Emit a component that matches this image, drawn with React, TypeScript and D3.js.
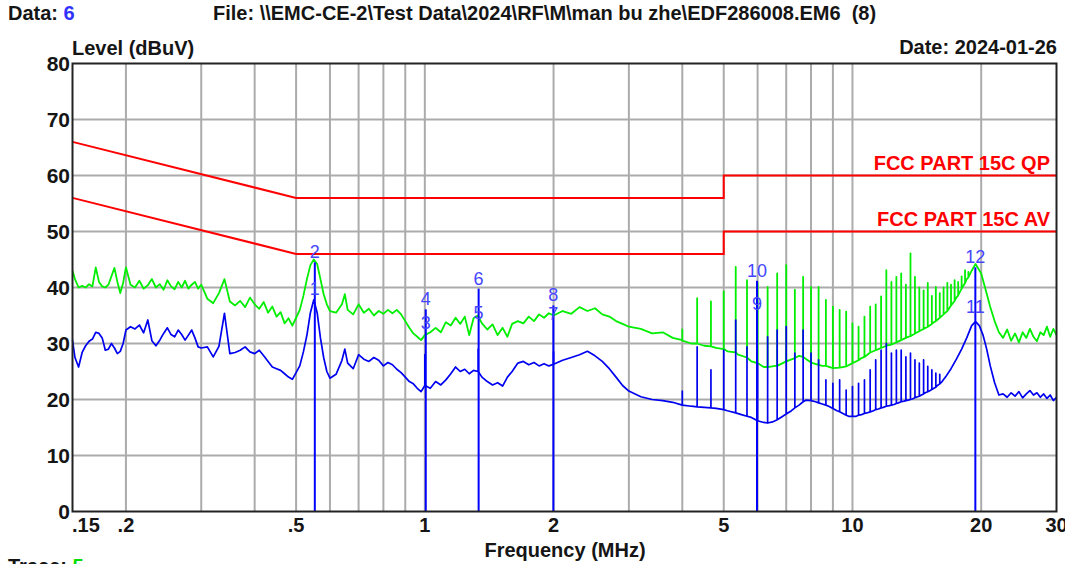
import { useEffect, useRef } from 'react';
import * as d3 from 'd3';

const W = 1065;
const H = 564;
const FONT = '"Liberation Sans", Arial, Helvetica, sans-serif';

// axis
const xGrid = [0.2, 0.3, 0.4, 0.5, 0.6, 0.7, 0.8, 0.9, 1, 2, 3, 4, 5, 6, 7, 8, 9, 10, 20];
const xTicks = [0.15, 0.2, 0.5, 1, 2, 5, 10, 20, 30];
const xTickLabels = ['.15', '.2', '.5', '1', '2', '5', '10', '20', '30'];
const yTicks = [0, 10, 20, 30, 40, 50, 60, 70, 80];

// limits (MHz, dBuV)
const qpLimit: [number, number][] = [[0.15, 66], [0.5, 56], [5, 56], [5, 60], [30, 60]];
const avLimit: [number, number][] = [[0.15, 56], [0.5, 46], [5, 46], [5, 50], [30, 50]];

// peak trace (green)
const greenBase: [number, number][] = [
  [0.150, 43.0], [0.152, 41.5], [0.155, 40.0], [0.158, 40.3], [0.161, 40.0], [0.164, 40.6], [0.167, 40.2],
  [0.170, 43.6], [0.173, 41.0], [0.176, 40.2], [0.179, 40.0], [0.182, 40.5], [0.185, 42.0], [0.188, 43.5],
  [0.191, 41.0], [0.194, 39.0], [0.197, 40.8], [0.200, 43.6], [0.205, 40.5], [0.21, 40.0], [0.215, 41.2],
  [0.22, 39.8], [0.225, 40.4], [0.23, 41.5], [0.235, 40.0], [0.24, 40.6], [0.245, 39.6], [0.25, 41.3],
  [0.255, 40.2], [0.26, 39.7], [0.265, 41.0], [0.27, 40.0], [0.275, 41.2], [0.28, 39.8], [0.285, 40.5],
  [0.29, 41.0], [0.295, 39.8], [0.30, 40.5], [0.31, 38.0], [0.32, 37.2], [0.33, 39.0], [0.34, 41.5],
  [0.35, 37.5], [0.36, 36.8], [0.37, 37.6], [0.38, 36.5], [0.39, 38.2], [0.40, 37.0], [0.41, 36.2],
  [0.42, 37.4], [0.43, 35.5], [0.44, 36.6], [0.45, 34.8], [0.46, 35.6], [0.47, 33.6], [0.48, 34.5],
  [0.49, 33.2], [0.50, 34.6], [0.51, 36.0], [0.52, 38.5], [0.53, 41.5], [0.54, 44.0], [0.55, 45.0],
  [0.56, 44.2], [0.57, 41.5], [0.58, 38.8], [0.59, 37.0], [0.60, 35.8], [0.62, 35.5], [0.64, 37.0],
  [0.65, 38.8], [0.66, 36.0], [0.68, 35.2], [0.70, 37.0], [0.72, 35.5], [0.74, 36.2], [0.76, 35.0],
  [0.78, 35.8], [0.80, 35.3], [0.82, 36.0], [0.84, 35.4], [0.86, 36.0], [0.88, 35.2], [0.90, 34.0],
  [0.92, 32.8], [0.94, 31.8], [0.96, 31.2], [0.98, 30.6], [1.0, 31.5], [1.03, 32.0], [1.06, 32.8],
  [1.09, 32.0], [1.12, 33.8], [1.15, 33.2], [1.18, 34.6], [1.21, 33.5], [1.24, 34.8], [1.27, 31.5],
  [1.30, 34.5], [1.33, 35.0], [1.36, 33.6], [1.40, 32.5], [1.44, 33.4], [1.48, 31.5], [1.52, 32.8],
  [1.56, 31.2], [1.60, 33.5], [1.65, 34.0], [1.70, 33.6], [1.75, 34.8], [1.80, 34.0], [1.85, 35.2],
  [1.90, 34.6], [1.95, 35.4], [2.0, 35.0], [2.1, 35.8], [2.2, 35.3], [2.3, 36.5], [2.4, 35.8],
  [2.5, 36.3], [2.6, 35.2], [2.7, 34.8], [2.8, 34.0], [2.9, 33.5], [3.0, 33.0], [3.2, 32.6],
  [3.4, 31.8], [3.6, 32.0], [3.8, 31.0], [4.0, 30.6], [4.2, 30.0], [4.5, 29.6], [4.8, 29.2],
  [5.1, 28.6], [5.4, 28.0], [5.8, 26.8], [6.2, 25.8], [6.6, 26.0], [7.0, 26.8], [7.5, 27.8],
  [8.0, 26.6], [8.5, 26.0], [9.0, 25.6], [9.5, 25.8], [10.0, 26.5], [10.5, 27.4], [11.0, 28.4],
  [11.5, 29.0], [12.0, 29.6], [12.5, 30.0], [13.0, 30.6], [13.5, 31.2], [14.0, 31.8], [14.5, 32.4],
  [15.0, 33.0], [15.5, 33.8], [16.0, 34.6], [16.5, 35.5], [17.0, 36.8], [17.5, 38.2], [18.0, 39.8],
  [18.5, 41.5], [19.0, 43.0], [19.4, 44.2], [20.0, 42.5], [20.5, 39.5], [21.0, 36.5], [21.5, 34.0],
  [22.0, 32.0], [22.5, 31.0], [23.0, 32.5], [23.5, 30.5], [24.0, 31.8], [24.5, 30.2], [25.0, 32.0],
  [25.5, 31.0], [26.0, 32.6], [26.5, 31.2], [27.0, 30.4], [27.5, 32.0], [28.0, 31.5], [28.5, 33.0],
  [29.0, 31.2], [29.5, 32.6], [30.0, 31.5],
];

// harmonic spikes: freq, foot, top
const greenSpikes: [number, number, number][] = [
  [4.0, 30.5, 32.5], [4.333, 30.0, 38.1], [4.667, 29.5, 37.5], [5.0, 29.0, 39.3], [5.333, 28.4, 43.7],
  [5.667, 27.5, 41.3], [6.0, 26.5, 40.8], [6.333, 25.8, 40.1], [6.667, 26.0, 42.5], [7.0, 26.8, 44.0],
  [7.333, 27.4, 39.6], [7.667, 27.6, 41.9], [8.0, 26.6, 40.1], [8.333, 26.2, 40.1], [8.667, 26.0, 37.8],
  [9.0, 25.6, 36.6], [9.333, 25.7, 36.0], [9.667, 25.9, 35.7], [10.0, 26.5, 33.6], [10.333, 27.0, 33.0],
  [10.667, 27.6, 34.8], [11.0, 28.4, 36.6], [11.333, 28.8, 37.0], [11.667, 29.2, 38.4], [12.0, 29.6, 43.1],
  [12.333, 29.8, 41.0], [12.667, 30.2, 41.9], [13.0, 30.6, 42.5], [13.333, 31.0, 40.5], [13.667, 31.3, 46.1],
  [14.0, 31.8, 41.9], [14.333, 32.2, 40.0], [14.667, 32.6, 39.5], [15.0, 33.0, 40.8], [15.333, 33.5, 38.5],
  [15.667, 34.0, 40.1], [16.0, 34.6, 39.0], [16.333, 35.2, 40.0], [16.667, 35.8, 40.8], [17.0, 36.8, 40.5],
  [17.333, 37.6, 41.3], [17.667, 38.6, 41.0], [18.0, 39.8, 42.0], [18.333, 40.8, 43.1], [18.667, 41.8, 42.8],
];

// average trace (blue)
const blueBase: [number, number][] = [
  [0.150, 30.6], [0.152, 27.5], [0.155, 25.8], [0.158, 28.4], [0.161, 29.6], [0.164, 30.4], [0.167, 30.8],
  [0.170, 32.0], [0.173, 31.8], [0.176, 31.0], [0.179, 28.8], [0.182, 29.0], [0.185, 30.0], [0.188, 29.2],
  [0.191, 28.2], [0.194, 28.6], [0.197, 30.0], [0.200, 32.4], [0.205, 33.0], [0.21, 32.6], [0.215, 33.3],
  [0.22, 31.9], [0.225, 34.2], [0.23, 30.5], [0.235, 29.6], [0.24, 30.6], [0.245, 31.8], [0.25, 32.8],
  [0.255, 31.6], [0.26, 31.2], [0.265, 32.4], [0.27, 31.6], [0.275, 30.6], [0.28, 31.5], [0.285, 32.4],
  [0.29, 31.0], [0.295, 29.4], [0.30, 29.2], [0.31, 29.4], [0.32, 27.6], [0.33, 29.5], [0.34, 35.4],
  [0.35, 28.2], [0.36, 28.4], [0.37, 28.8], [0.38, 29.4], [0.39, 28.5], [0.40, 28.2], [0.41, 28.8],
  [0.42, 27.8], [0.43, 26.8], [0.44, 25.8], [0.45, 25.5], [0.46, 25.2], [0.47, 24.6], [0.48, 24.0],
  [0.49, 23.6], [0.50, 24.8], [0.51, 26.0], [0.52, 28.5], [0.53, 31.5], [0.54, 35.5], [0.55, 37.8],
  [0.56, 35.5], [0.57, 31.0], [0.58, 27.5], [0.59, 25.0], [0.60, 23.8], [0.62, 24.5], [0.64, 27.0],
  [0.65, 29.0], [0.66, 26.5], [0.68, 25.5], [0.70, 28.0], [0.72, 27.2], [0.74, 26.8], [0.76, 27.5],
  [0.78, 27.0], [0.80, 26.0], [0.82, 26.6], [0.84, 26.2], [0.86, 25.4], [0.88, 24.8], [0.90, 24.0],
  [0.92, 23.2], [0.94, 22.8], [0.96, 22.0], [0.98, 21.4], [1.0, 22.5], [1.03, 22.0], [1.06, 23.2],
  [1.09, 22.6], [1.12, 23.5], [1.15, 24.6], [1.18, 25.8], [1.21, 25.0], [1.24, 25.4], [1.27, 24.6],
  [1.30, 25.2], [1.33, 25.0], [1.36, 24.0], [1.40, 23.2], [1.44, 22.6], [1.48, 23.0], [1.52, 22.4],
  [1.56, 24.0], [1.60, 25.0], [1.65, 26.5], [1.70, 26.8], [1.75, 26.2], [1.80, 26.6], [1.85, 26.0],
  [1.90, 26.4], [1.95, 26.0], [2.0, 26.3], [2.1, 27.0], [2.2, 27.5], [2.3, 28.0], [2.4, 28.6],
  [2.5, 27.8], [2.6, 26.8], [2.7, 25.5], [2.8, 24.0], [2.9, 22.5], [3.0, 21.5], [3.2, 20.5],
  [3.4, 20.0], [3.6, 19.8], [3.8, 19.5], [4.0, 19.0], [4.2, 18.8], [4.5, 18.6], [4.8, 18.4],
  [5.1, 18.0], [5.5, 17.3], [5.8, 16.8], [6.2, 15.9], [6.5, 16.0], [6.8, 16.8], [7.2, 18.0],
  [7.5, 19.0], [7.8, 19.9], [8.2, 19.6], [8.5, 19.2], [8.8, 18.8], [9.2, 18.0], [9.5, 17.5],
  [9.8, 17.0], [10.2, 17.0], [10.5, 17.3], [10.8, 17.6], [11.2, 18.0], [11.5, 18.3], [11.8, 18.6],
  [12.2, 18.9], [12.5, 19.1], [12.8, 19.4], [13.2, 19.7], [13.5, 19.9], [13.8, 20.1], [14.2, 20.5],
  [14.5, 20.8], [14.8, 21.2], [15.2, 21.6], [15.5, 22.0], [15.8, 22.5], [16.2, 23.2], [16.5, 24.0],
  [17.0, 25.5], [17.5, 27.2], [18.0, 29.0], [18.5, 31.0], [19.0, 33.2], [19.4, 33.9], [19.8, 33.2],
  [20.2, 31.5], [20.6, 29.0], [21.0, 26.0], [21.5, 23.0], [22.0, 20.8], [22.5, 21.0], [23.0, 20.4],
  [23.5, 21.2], [24.0, 20.6], [24.5, 21.4], [25.0, 20.3], [25.5, 21.0], [26.0, 21.6], [26.5, 20.8],
  [27.0, 21.2], [27.5, 20.4], [28.0, 21.0], [28.5, 20.2], [29.0, 20.8], [29.5, 19.8], [30.0, 20.4],
];

const blueSpikes: [number, number, number][] = [
  [1.0, 22.5, 28.0], [1.333, 25.0, 29.0], [2.0, 26.3, 28.5],
  [4.0, 19.0, 21.5], [4.333, 18.7, 29.4], [4.667, 18.5, 25.3], [5.0, 18.2, 28.8], [5.333, 17.6, 34.2],
  [5.667, 17.0, 29.4], [6.0, 16.2, 26.5], [6.333, 15.8, 31.2], [6.667, 16.4, 32.4], [7.0, 17.4, 33.0],
  [7.333, 18.5, 28.3], [7.667, 19.6, 32.4], [8.0, 19.8, 28.3], [8.333, 19.4, 27.1], [8.667, 19.0, 23.5],
  [9.0, 18.4, 22.9], [9.333, 17.8, 23.5], [9.667, 17.2, 21.7], [10.0, 17.0, 22.3], [10.333, 17.2, 22.9],
  [10.667, 17.5, 23.5], [11.0, 17.8, 25.3], [11.333, 18.2, 27.1], [11.667, 18.5, 28.8], [12.0, 18.8, 30.0],
  [12.333, 19.0, 28.3], [12.667, 19.3, 28.8], [13.0, 19.6, 28.8], [13.333, 19.8, 27.6], [13.667, 20.0, 28.3],
  [14.0, 20.3, 27.1], [14.333, 20.6, 26.5], [14.667, 21.0, 27.1], [15.0, 21.4, 25.9], [15.333, 21.8, 25.3],
  [15.667, 22.2, 24.7], [16.0, 22.8, 24.5],
];

// final measurement markers
const markerFreqs = [0.553, 1.005, 1.336, 1.998, 5.98, 19.38];
const markerAV = [37.9, 31.8, 33.6, 33.4, 35.2, 34.8];
const markerQP = [44.5, 36.1, 39.8, 36.8, 41.2, 43.6];

function withSpikes(base: [number, number][], spikes: [number, number, number][]) {
  const items = [
    ...base.map(d => ({ f: d[0], pts: [[d[0], d[1]]] })),
    ...spikes.map(s => ({ f: s[0], pts: [[s[0], s[1]], [s[0], s[2]], [s[0], s[1]]] })),
  ];
  items.sort((a, b) => a.f - b.f);
  return items.flatMap(i => i.pts) as [number, number][];
}

function EmcChart() {
  const svgRef = useRef<SVGSVGElement>(null);

  useEffect(() => {
    const svg = d3.select(svgRef.current).attr('width', W).attr('height', H);
    svg.selectAll('*').remove();

    const left = 72.5, right = 1056.5, top = 63.5, bottom = 511.5;
    const x = d3.scaleLog().domain([0.15, 30]).range([left, right]);
    const y = d3.scaleLinear().domain([0, 80]).range([bottom, top]);

    svg.append('rect').attr('width', W).attr('height', H).attr('fill', '#fff');

    // grid
    svg.append('g').selectAll('line').data(xGrid).join('line')
      .attr('x1', d => x(d)).attr('x2', d => x(d)).attr('y1', top).attr('y2', bottom)
      .attr('stroke', '#ababab').attr('stroke-width', 2);
    svg.append('g').selectAll('line').data(yTicks.slice(1, -1)).join('line')
      .attr('x1', left).attr('x2', right).attr('y1', d => y(d)).attr('y2', d => y(d))
      .attr('stroke', '#ababab').attr('stroke-width', 2);

    const line = d3.line<[number, number]>().x(d => x(d[0])).y(d => y(d[1]));

    // limits
    [qpLimit, avLimit].forEach(l => {
      svg.append('path').attr('d', line(l)).attr('fill', 'none')
        .attr('stroke', '#ff0000').attr('stroke-width', 2);
    });

    // traces
    svg.append('path').attr('d', line(withSpikes(greenBase, greenSpikes)))
      .attr('fill', 'none').attr('stroke', '#00ee00').attr('stroke-width', 1.8).attr('stroke-linejoin', 'round');
    svg.append('path').attr('d', line(withSpikes(blueBase, blueSpikes)))
      .attr('fill', 'none').attr('stroke', '#0000f0').attr('stroke-width', 1.7).attr('stroke-linejoin', 'round');

    // marker bars
    svg.append('g').selectAll('line').data(markerFreqs).join('line')
      .attr('x1', d => x(d)).attr('x2', d => x(d))
      .attr('y1', bottom).attr('y2', (d, i) => y(markerQP[i]))
      .attr('stroke', '#0000ff').attr('stroke-width', 2);

    const mk = svg.append('g').attr('font-family', FONT).attr('font-size', 18)
      .attr('fill', '#4545ff').attr('text-anchor', 'middle');
    markerFreqs.forEach((f, i) => {
      mk.append('text').attr('x', x(f)).attr('y', y(markerAV[i]) - 4).text(String(i * 2 + 1));
      mk.append('text').attr('x', x(f)).attr('y', y(markerQP[i]) - 4).text(String(i * 2 + 2));
    });

    // frame
    svg.append('rect').attr('x', left).attr('y', top).attr('width', right - left).attr('height', bottom - top)
      .attr('fill', 'none').attr('stroke', '#222').attr('stroke-width', 2);

    const txt = svg.append('g').attr('font-family', FONT).attr('font-weight', 'bold')
      .attr('font-size', 20).attr('fill', '#151515');

    // y tick labels
    yTicks.forEach(v => {
      txt.append('text').attr('x', 70).attr('y', y(v) + 7).attr('text-anchor', 'end')
        .attr('font-size', 21).text(String(v));
    });
    // x tick labels
    xTicks.forEach((v, i) => {
      txt.append('text').attr('x', i === 0 ? left - 0.5 : x(v)).attr('y', 532)
        .attr('text-anchor', i === 0 ? 'start' : 'middle').text(xTickLabels[i]);
    });

    const data = txt.append('text').attr('x', 8).attr('y', 20);
    data.append('tspan').text('Data: ');
    data.append('tspan').attr('fill', '#3030ff').text('6');

    txt.append('text').attr('x', 213).attr('y', 20).style('white-space', 'pre')
      .text('File: \\\\EMC-CE-2\\Test Data\\2024\\RF\\M\\man bu zhe\\EDF286008.EM6  (8)');
    txt.append('text').attr('x', 72).attr('y', 55).text('Level (dBuV)');
    txt.append('text').attr('x', 1057).attr('y', 54).attr('text-anchor', 'end').text('Date: 2024-01-26');
    txt.append('text').attr('x', 565).attr('y', 557).attr('text-anchor', 'middle').text('Frequency (MHz)');

    const trace = txt.append('text').attr('x', 8).attr('y', 573);
    trace.append('tspan').text('Trace: ');
    trace.append('tspan').attr('fill', '#00dd00').text('5');

    // limit names
    txt.append('text').attr('x', 1050).attr('y', 170).attr('text-anchor', 'end').attr('fill', '#ff0000')
      .text('FCC PART 15C QP');
    txt.append('text').attr('x', 1050).attr('y', 226).attr('text-anchor', 'end').attr('fill', '#ff0000')
      .text('FCC PART 15C AV');
  }, []);

  return <svg ref={svgRef} style={{ position: 'absolute', left: 0, top: 0, display: 'block' }}></svg>;
}

export default function App() {
  return <EmcChart />;
}
